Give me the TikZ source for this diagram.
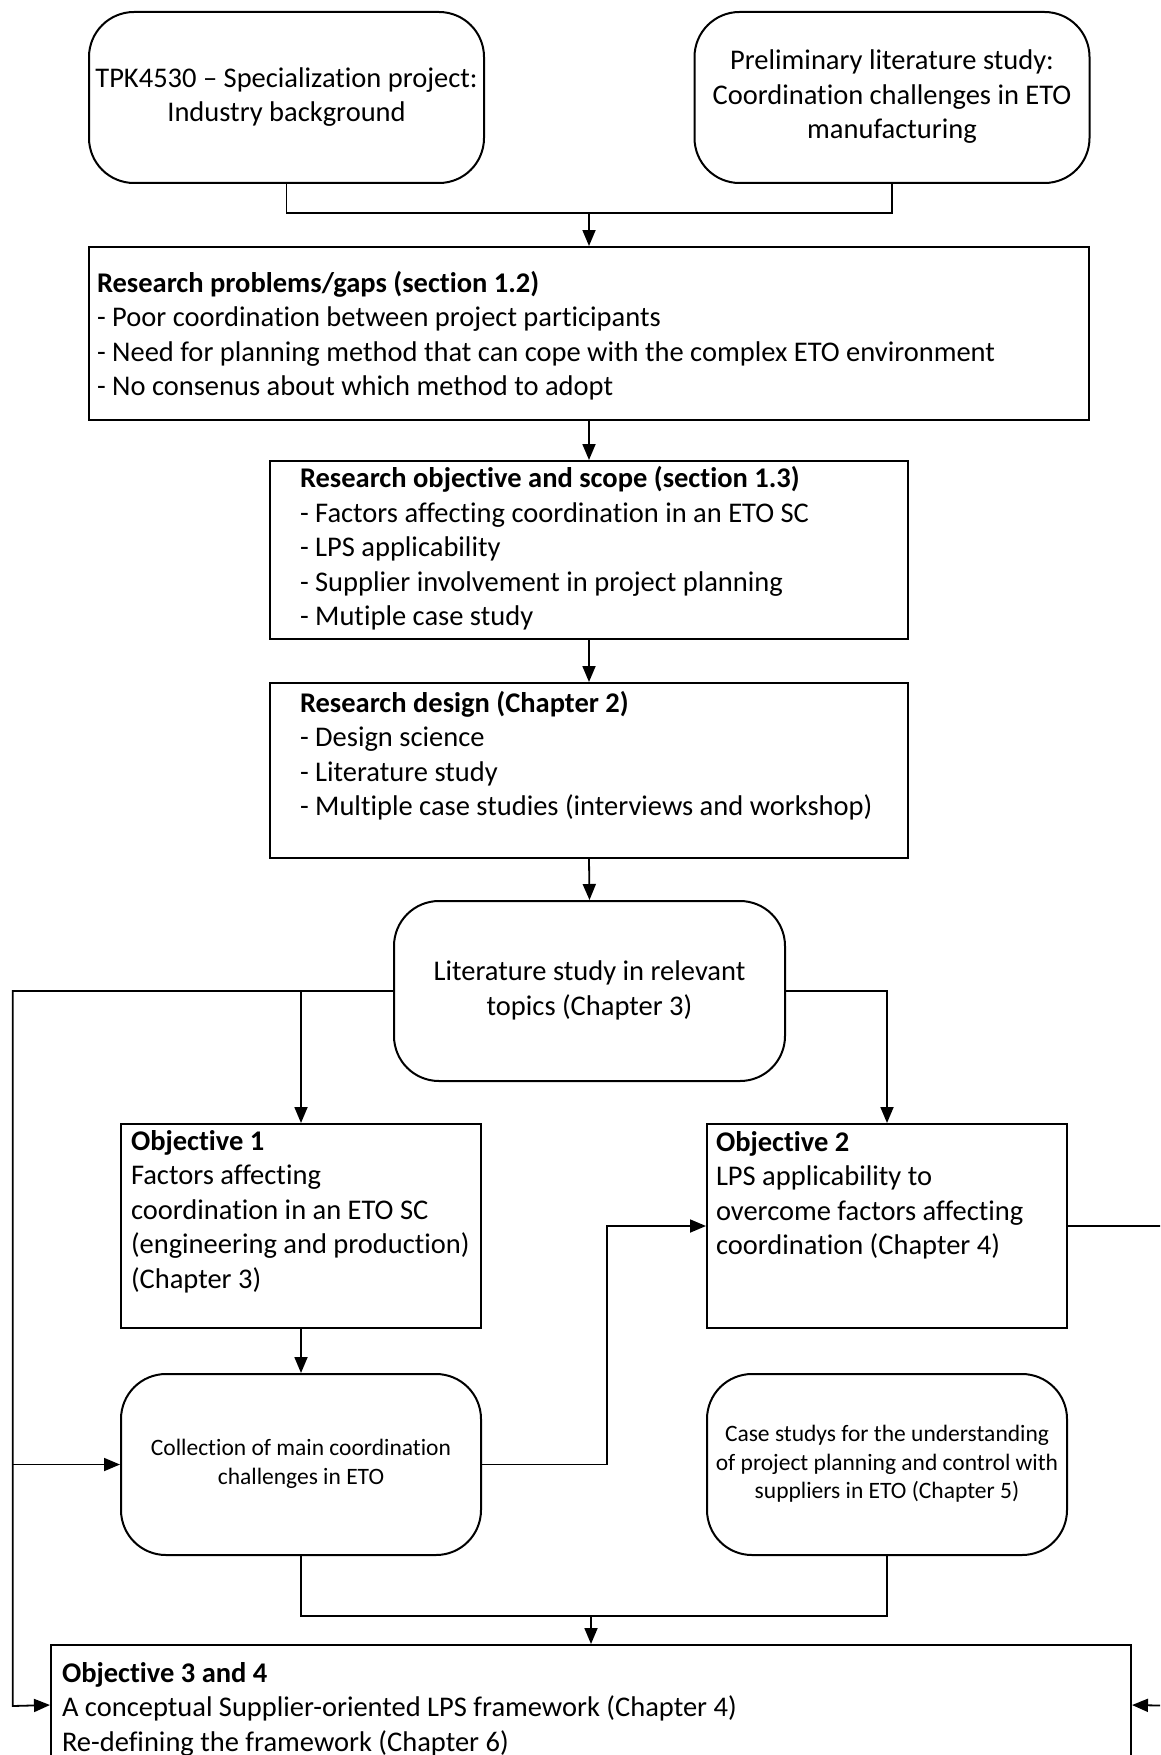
\documentclass[tikz,border=0pt]{standalone}
\usepackage{fontspec}
\setmainfont{Carlito}[Ligatures=NoCommon]
\usetikzlibrary{arrows.meta,calc}
\newcommand{\tbx}[5]{\parbox[c][#2pt][t]{#1pt}{\raggedright\leftskip=#4pt\relax\vspace*{#3pt}#5}}
\newcommand{\cbx}[3]{\parbox[c][#2pt][c]{#1pt}{\centering #3}}
\newcommand{\lbx}[4]{\parbox[c][#2pt][c]{#1pt}{\raggedright\leftskip=#3pt\relax #4}}
\begin{document}
\begin{tikzpicture}[x=1pt,y=-1pt,
  every node/.style={font=\fontsize{28.5}{34.5}\selectfont},
  sqbox/.style={draw, line width=2pt, inner sep=0pt, rectangle},
  rdbox/.style={sqbox, rounded corners=45pt},
  small/.style={font=\fontsize{23.5}{28.5}\selectfont},
  conn/.style={line width=1.8pt},
  arr/.style={conn, -{Triangle[length=16pt,width=13pt]}}]
\clip (0,0) rectangle (1160,1755);
\fill[white] (0,0) rectangle (1160,1755);

% boxes
\node[rdbox] (A) at (286.5,97.5) {\cbx{395}{171}{\strut\mbox{TPK4530 – Specialization project:}\\Industry background\strut}};
\node[rdbox] (B) at (892,97.5) {\cbx{395}{171}{\strut Preliminary literature study:\\\mbox{Coordination challenges in ETO}\\manufacturing\strut}};
\node[sqbox] (C) at (589,333.5) {\tbx{1000}{173}{21}{8}{\strut\textbf{Research problems/gaps (section 1.2)}\\- Poor coordination between project participants\\- Need for planning method that can cope with the complex ETO environment\\- No consenus about which method to adopt}};
\node[sqbox] (D) at (589,550) {\lbx{638}{178}{30}{\strut\textbf{Research objective and scope (section 1.3)}\\- Factors affecting coordination in an ETO SC\\- LPS applicability\\- Supplier involvement in project planning\\- Mutiple case study\strut}};
\node[sqbox] (E) at (589,770.5) {\tbx{638}{175}{5}{30}{\strut\textbf{Research design (Chapter 2)}\\- Design science\\- Literature study\\- Multiple case studies (interviews and workshop)}};
\node[rdbox] (F) at (589.5,991) {\cbx{391}{180}{\strut Literature study in relevant\\topics (Chapter 3)\strut}};
\node[sqbox] (G) at (301,1226) {\tbx{360}{204}{2}{10}{\strut\textbf{Objective 1}\\Factors affecting\\coordination in an ETO SC\\\mbox{(engineering and production)}\\(Chapter 3)}};
\node[sqbox] (O2) at (887,1226) {\tbx{360}{204}{3}{9}{\strut\textbf{Objective 2}\\LPS applicability to\\overcome factors affecting\\coordination (Chapter 4)}};
\node[rdbox, small] (G2) at (301,1464.5) {\cbx{360}{181}{\strut Collection of main coordination\\challenges in ETO\strut}};
\node[rdbox, small] (Case) at (887,1464.5) {\cbx{360}{181}{\strut Case studys for the understanding\\\mbox{of project planning and control with}\\suppliers in ETO (Chapter 5)\strut}};
\node[sqbox] (H) at (591,1717.5) {\tbx{1080}{145}{13}{11}{\strut\textbf{Objective 3 and 4}\\A conceptual Supplier-oriented LPS framework (Chapter 4)\\Re-defining the framework (Chapter 6)}};

% helper points
\coordinate (m1) at (589,213);
\coordinate (rl) at (12.7,1706);
\path (H.north west) ++(0,61) coordinate (hL);
\path (H.north east) ++(0,61) coordinate (hR);
\coordinate (mid) at (607,1226);
\coordinate (rr) at (1185,1706);
\coordinate (m2) at (591,1616);

% connectors
\draw[conn] (A.south) |- (m1) -| (B.south);
\draw[arr] (m1) -- (C.north);
\draw[arr] (C.south) -- (D.north);
\draw[arr] (D.south) -- (E.north);
\draw[arr] (E.south) -- (F.north);
\draw[arr] (F.west) -| (rl) -- (hL);
\draw[arr] (G2.west -| rl) -- (G2.west);
\draw[arr] (G.north |- F.west) -- (G.north);
\draw[arr] (F.east) -| (O2.north);
\draw[arr] (G.south) -- (G2.north);
\draw[arr] (G2.east) -| (mid) -- (O2.west);
\draw[arr] (O2.east) -| (rr) -- (hR);
\draw[conn] (G2.south) |- (m2) -| (Case.south);
\draw[arr] (m2) -- (H.north);
\end{tikzpicture}
\end{document}
